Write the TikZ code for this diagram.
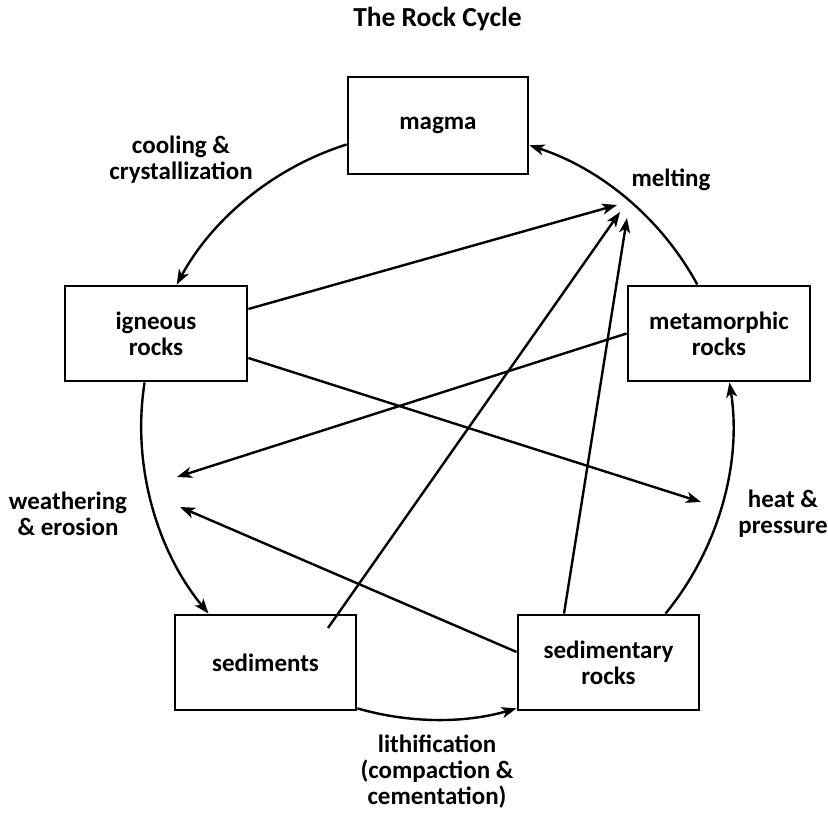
\documentclass[tikz,border=0pt]{standalone}
\usepackage{fontspec}
\setmainfont{Carlito}
\usetikzlibrary{arrows.meta}
\newcommand{\rclabfont}{\bfseries\fontsize{25}{26}\selectfont}
\newcommand{\rctitlefont}{\bfseries\fontsize{27.5}{30}\selectfont}
\begin{document}
\begin{tikzpicture}[x=1pt,y=1pt,
  box/.style={draw, line width=2.8pt, inner sep=0pt, align=center, font=\rclabfont},
  lab/.style={align=center, font=\rclabfont, inner sep=0pt},
  conn/.style={line width=2.4pt, -{Stealth[length=15pt,width=11pt,inset=4pt]}},
  cyc/.style={conn, looseness=0.88}]
\useasboundingbox (0,0) rectangle (828,812);
% title
\node[lab, font=\rctitlefont] (title) at (437.5,793) {The Rock Cycle};
% boxes
\node[box, minimum width=180pt, minimum height=97pt] (magma) at (438,686.5) {magma};
\node[box, minimum width=182pt, minimum height=95pt] (ign) at (156,478.5) {igneous\\rocks};
\node[box, minimum width=182pt, minimum height=95pt] (met) at (719,478.5) {metamorphic\\rocks};
\node[box, minimum width=181pt, minimum height=95pt] (sed) at (265.5,149.5) {sediments};
\node[box, minimum width=181pt, minimum height=95pt] (sedr) at (608.5,149.5) {sedimentary\\rocks};
% labels
\node[lab] (cool) at (181,652) {cooling \&\\crystallization};
\node[lab] (melt) at (671,632) {melting};
\node[lab] (weath) at (68,298) {weathering\\\& erosion};
\node[lab] (heat) at (783,298) {heat \&\\pressure};
\node[lab] (lith) at (437,40) {lithification\\(compaction \&\\cementation)};
% arrow targets
\coordinate (mA) at (617,607);
\coordinate (mB) at (620,600);
\coordinate (mC) at (627,594);
\coordinate (wA) at (177,335);
\coordinate (wB) at (180,305);
\coordinate (hA) at (701,310);
% cycle arcs
\draw[cyc] ([yshift=-19pt]magma.west) to[out=197.5,in=61.5] ([xshift=20.7pt]ign.north);
\draw[cyc] ([xshift=-11.4pt]ign.south) to[out=261,in=129.4] ([xshift=-57pt]sed.north);
\draw[cyc] ([yshift=3pt]sed.south east) to[out=-16,in=196] ([yshift=3pt]sedr.south west);
\draw[cyc] ([xshift=57pt]sedr.north) to[out=50.6,in=-81] ([xshift=10.4pt]met.south);
\draw[cyc] ([xshift=-21.7pt]met.north) to[out=118.45,in=-18] ([yshift=-19.8pt]magma.east);
% straight connectors
\draw[conn] ([yshift=24.5pt]ign.east) -- (mA);
\draw[conn] ([yshift=-24.5pt]ign.east) -- (hA);
\draw[conn] (met.west) -- (wA);
\draw[conn] ([yshift=10.5pt]sedr.west) -- (wB);
\draw[conn] ([shift={(62.5pt,34.5pt)}]sed.center) -- (mB);
\draw[conn] ([xshift=-44.5pt]sedr.north) -- (mC);
\end{tikzpicture}
\end{document}
